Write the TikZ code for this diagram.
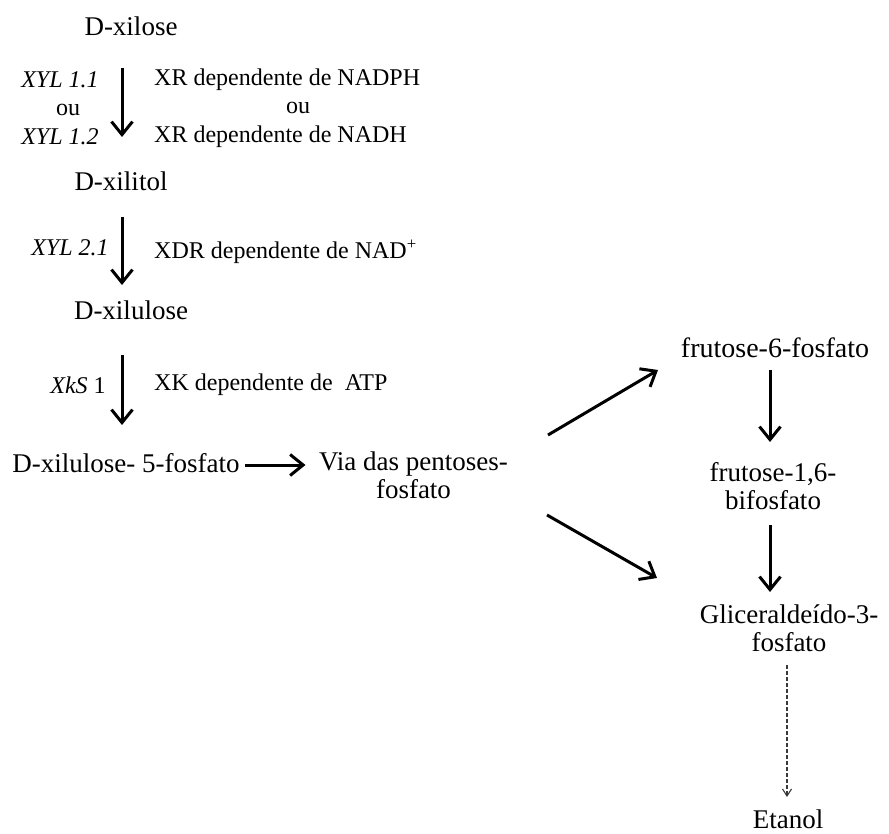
\documentclass[tikz,border=0pt]{standalone}
\usepackage{fontspec}
\setmainfont{Liberation Serif}
\usetikzlibrary{arrows.meta}

\begin{document}
\begin{tikzpicture}[x=1pt, y=-1pt,
  met/.style={inner sep=0pt, font=\fontsize{27}{28}\selectfont},
  enz/.style={inner sep=0pt, font=\fontsize{24}{28.5}\selectfont},
  seta/.style={-{Straight Barb[length=13pt,width=21pt]}, line width=3pt},
  pont/.style={-{Straight Barb[length=7pt,width=9pt]}, dash pattern=on 4pt off 2pt, gray!45!black, line width=1.1pt}]
  \useasboundingbox (0,0) rectangle (889,834);
  \node[met] (Xil) at (131,26) {D-xilose};
  \node[met] (Xol) at (121,181) {D-xilitol};
  \node[met] (Xul) at (131,310) {D-xilulose};
  \node[met] (XulP) at (126,463) {D-xilulose- 5-fosfato};
  \node[met, align=center] (Via) at (413.5,475) {Via das pentoses-\\fosfato};
  \node[met, font=\fontsize{28}{28}\selectfont] (F6P) at (775,348) {frutose-6-fosfato};
  \node[met, align=center] (F16P) at (773,486) {frutose-1,6-\\bifosfato};
  \node[met, align=center] (G3P) at (789,628) {Gliceraldeído-3-\\fosfato};
  \node[met] (Et) at (788,819) {Etanol};
  \node[enz, align=center] (XYL1) at (60,108) {\textit{XYL 1.1}\\\hspace*{16pt}ou\\\textit{XYL 1.2}};
  \node[enz, align=left, anchor=west] (XR) at (154,108) {XR dependente de NADPH\\\hspace*{132pt}ou\\XR dependente de NADH};
  \node[enz] (XYL2) at (70,248) {\textit{XYL 2.1}};
  \node[enz, anchor=west] (XDR) at (154,252) {XDR dependente de NAD\textsuperscript{+}};
  \node[enz] (XkS) at (78,385) {\textit{XkS} 1};
  \node[enz, anchor=west] (XK) at (154,385) {XK dependente de\ \ ATP};
  \draw[seta] ([shift={(-9,42)}]Xil.center) -- ([shift={(1,-44)}]Xol.center);
  \draw[seta] ([shift={(1,36)}]Xol.center) -- ([shift={(-9,-25)}]Xul.center);
  \draw[seta] ([shift={(-9,45)}]Xul.center) -- ([shift={(-4,-38)}]XulP.center);
  \draw[seta] ([shift={(119,2)}]XulP.center) -- ([shift={(-108,-10)}]Via.center);
  \draw[seta] ([shift={(134.5,-40)}]Via.center) -- ([shift={(-117,22)}]F6P.center);
  \draw[seta] ([shift={(133.5,40)}]Via.center) -- ([shift={(-132,-50)}]G3P.center);
  \draw[seta] ([shift={(-5,22)}]F6P.center) -- ([shift={(-3,-44)}]F16P.center);
  \draw[seta] ([shift={(-3,39)}]F16P.center) -- ([shift={(-19,-36)}]G3P.center);
  \draw[pont] ([shift={(-2,37)}]G3P.center) -- ([shift={(-1,-22)}]Et.center);
\end{tikzpicture}
\end{document}
